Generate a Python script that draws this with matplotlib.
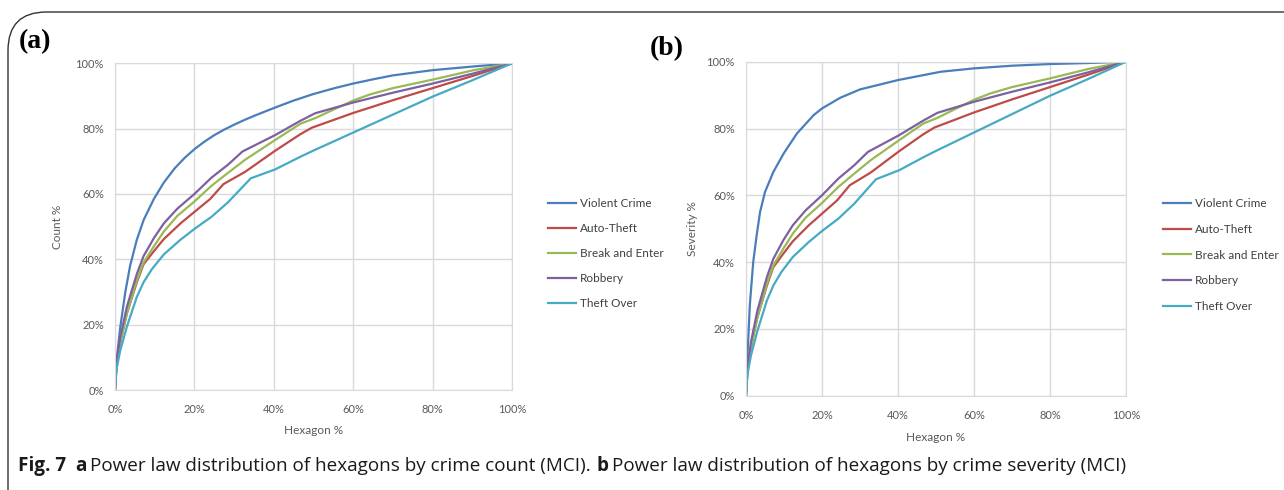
import matplotlib
matplotlib.use("Agg")
import matplotlib.pyplot as plt
from matplotlib.patches import FancyBboxPatch
from matplotlib.ticker import PercentFormatter
import numpy as np

# hexagon % / cumulative %
series_names = ["Violent Crime", "Auto-Theft", "Break and Enter", "Robbery", "Theft Over"]
colors = ["#4A7EBB", "#BE4B48", "#98B954", "#7D60A0", "#46AAC5"]

violent_count_x = [0, 0.4, 1.3, 2.6, 3.8, 5.5, 7.2, 9.8, 12.3, 15, 17.5, 20, 22.5, 25, 27.5, 30, 32.5, 35,
                   40, 45, 50, 55, 60, 65, 70, 80, 90, 100]
violent_count_y = [0, 9, 19, 30, 38, 46, 52, 58.5, 63.5, 67.8, 71, 73.7, 76, 78, 79.7, 81.2, 82.6, 83.9,
                   86.3, 88.6, 90.6, 92.3, 93.8, 95.1, 96.3, 97.9, 99, 100]

violent_sev_x = [0, 0.1, 0.6, 1, 1.9, 2.8, 3.7, 5, 7.2, 9.9, 13.4, 17.8, 20, 24.8, 30, 40, 51.3, 60, 70, 80, 90, 100]
violent_sev_y = [0, 7, 17, 27, 40, 48, 55, 61, 67, 72.5, 78.5, 84, 86, 89.2, 91.7, 94.5, 97, 98, 98.8, 99.3, 99.6, 100]

auto_x = [0, 0.4, 1.3, 3, 5.5, 7.2, 9.8, 12.3, 16.5, 20, 24, 27.3, 32.8, 40.3, 46.7, 49.6, 60, 70, 80, 90, 100]
auto_y = [0, 8, 14.5, 23.5, 33, 38.5, 42.5, 46.2, 51, 54.5, 58.5, 63, 66.8, 73.2, 78.3, 80.3, 84.8, 88.7, 92.4, 96.1, 100]

break_x = [0, 0.4, 1.3, 3, 5.5, 7.2, 9.8, 12.3, 15.7, 20, 24.3, 28.5, 32.8, 40.3, 46.7, 50.4, 55, 60, 64.3, 70, 80, 90, 100]
break_y = [0, 8, 14.5, 23.5, 33.5, 39, 44, 48.5, 53.3, 57.7, 62.5, 66.5, 70.5, 76.5, 81.5, 83.2, 85.8, 88.6, 90.5, 92.4, 95, 97.8, 100]

robbery_x = [0, 0.4, 1.3, 3, 5.5, 7.2, 9.8, 12.3, 15.7, 20, 24.3, 28.5, 32.1, 40.3, 46.7, 50.4, 60, 70, 80, 90, 100]
robbery_y = [0, 9, 16, 25.5, 35.5, 41, 46.5, 51, 55.5, 60, 65, 69, 73, 78, 82.4, 84.7, 88, 91, 93.8, 96.8, 100]

theft_x = [0, 0.4, 1.3, 3, 5.5, 7.2, 9.3, 12.3, 16.5, 20, 24.3, 28.5, 34.2, 40.3, 46.7, 50, 60, 70, 80, 90, 100]
theft_y = [0, 6.5, 12, 19.4, 28.5, 33, 37, 41.5, 46, 49.3, 53, 57.5, 64.8, 67.5, 71.4, 73.3, 78.8, 84.3, 89.8, 94.8, 100]

ticks = [0, 20, 40, 60, 80, 100]

caption_parts = [("Fig. 7", "bold"), ("a", "bold"),
                 ("Power law distribution of hexagons by crime count (MCI).", "normal"),
                 ("b", "bold"),
                 ("Power law distribution of hexagons by crime severity (MCI)", "normal")]
caption_gaps = [9, 4, 5, 4]

GRID = "#D9D9D9"
TXT = "#595959"
FONT = "Lato"
W, H = 1284, 490


def draw_panel(ax, violent_x, violent_y, ylabel, xpad, ypad):
    data = [(violent_x, violent_y), (auto_x, auto_y), (break_x, break_y),
            (robbery_x, robbery_y), (theft_x, theft_y)]
    for (x, y), name, c in zip(data, series_names, colors):
        ax.plot(np.array(x), np.array(y), color=c, lw=1.6, label=name, solid_joinstyle="round")

    ax.set_xlim(0, 100)
    ax.set_ylim(0, 100)
    ax.set_xticks(ticks)
    ax.set_yticks(ticks)
    ax.xaxis.set_major_formatter(PercentFormatter(decimals=0))
    ax.yaxis.set_major_formatter(PercentFormatter(decimals=0))
    ax.grid(True, color=GRID, lw=1)
    ax.set_axisbelow(True)
    for s in ax.spines.values():
        s.set_color(GRID)
    ax.tick_params(length=0, colors=TXT, labelsize=8)
    ax.tick_params(axis="x", pad=10)
    ax.tick_params(axis="y", pad=8)
    for lab in ax.get_xticklabels() + ax.get_yticklabels():
        lab.set_family(FONT)
    ax.set_xlabel("Hexagon %", color=TXT, fontsize=8.5, family=FONT, labelpad=xpad)
    ax.set_ylabel(ylabel, color=TXT, fontsize=8.5, family=FONT, labelpad=ypad)
    return ax


def draw_caption(fig, x0, y):
    renderer = fig.canvas.get_renderer()
    x = x0
    for i, (txt, weight) in enumerate(caption_parts):
        t = fig.text(x / W, 1 - y / H, txt, family="Open Sans", fontweight=weight,
                     fontsize=13.6, va="center", ha="left", color="#1a1a1a")
        bb = t.get_window_extent(renderer)
        x = x + bb.width
        if i < len(caption_gaps):
            x += caption_gaps[i]


def main():
    fig = plt.figure(figsize=(W / 100, H / 100), dpi=100)

    # outer rounded frame
    frame = FancyBboxPatch((8 / W, -0.2), 1.2, 1.2 - 12 / H,
                           boxstyle="round,pad=0,rounding_size=0.03",
                           transform=fig.transFigure, fill=False,
                           edgecolor="#333333", lw=1.0, mutation_aspect=W / H)
    fig.patches.append(frame)

    ax1 = fig.add_axes([115 / W, 1 - 390 / H, 397 / W, (390 - 63.3) / H])
    ax2 = fig.add_axes([746 / W, 1 - 395.7 / H, 380 / W, (395.7 - 61.7) / H])

    draw_panel(ax1, violent_count_x, violent_count_y, "Count %", 7, 9)
    draw_panel(ax2, violent_sev_x, violent_sev_y, "Severity %", 8, 6)

    leg_props = dict(loc="upper left", frameon=False, handlelength=2.4, handletextpad=0.3,
                     prop={"family": FONT, "size": 8.5}, labelcolor="#404040",
                     borderaxespad=0, borderpad=0)
    l1 = ax1.legend(bbox_to_anchor=(548 / W, 1 - 198 / H), bbox_transform=fig.transFigure,
                    labelspacing=1.18, **leg_props)
    l2 = ax2.legend(bbox_to_anchor=(1163 / W, 1 - 198 / H), bbox_transform=fig.transFigure,
                    labelspacing=1.25, **leg_props)
    for leg in (l1, l2):
        for line in leg.get_lines():
            line.set_linewidth(1.6)

    fig.text(19 / W, 1 - 42 / H, "(a)", family="Liberation Serif", fontweight="bold",
             fontsize=20, va="center", ha="left")
    fig.text(650 / W, 1 - 49 / H, "(b)", family="Liberation Serif", fontweight="bold",
             fontsize=20, va="center", ha="left")

    draw_caption(fig, 18, 466)

    fig.savefig("out.png", dpi=100)


if __name__ == '__main__':
    main()
